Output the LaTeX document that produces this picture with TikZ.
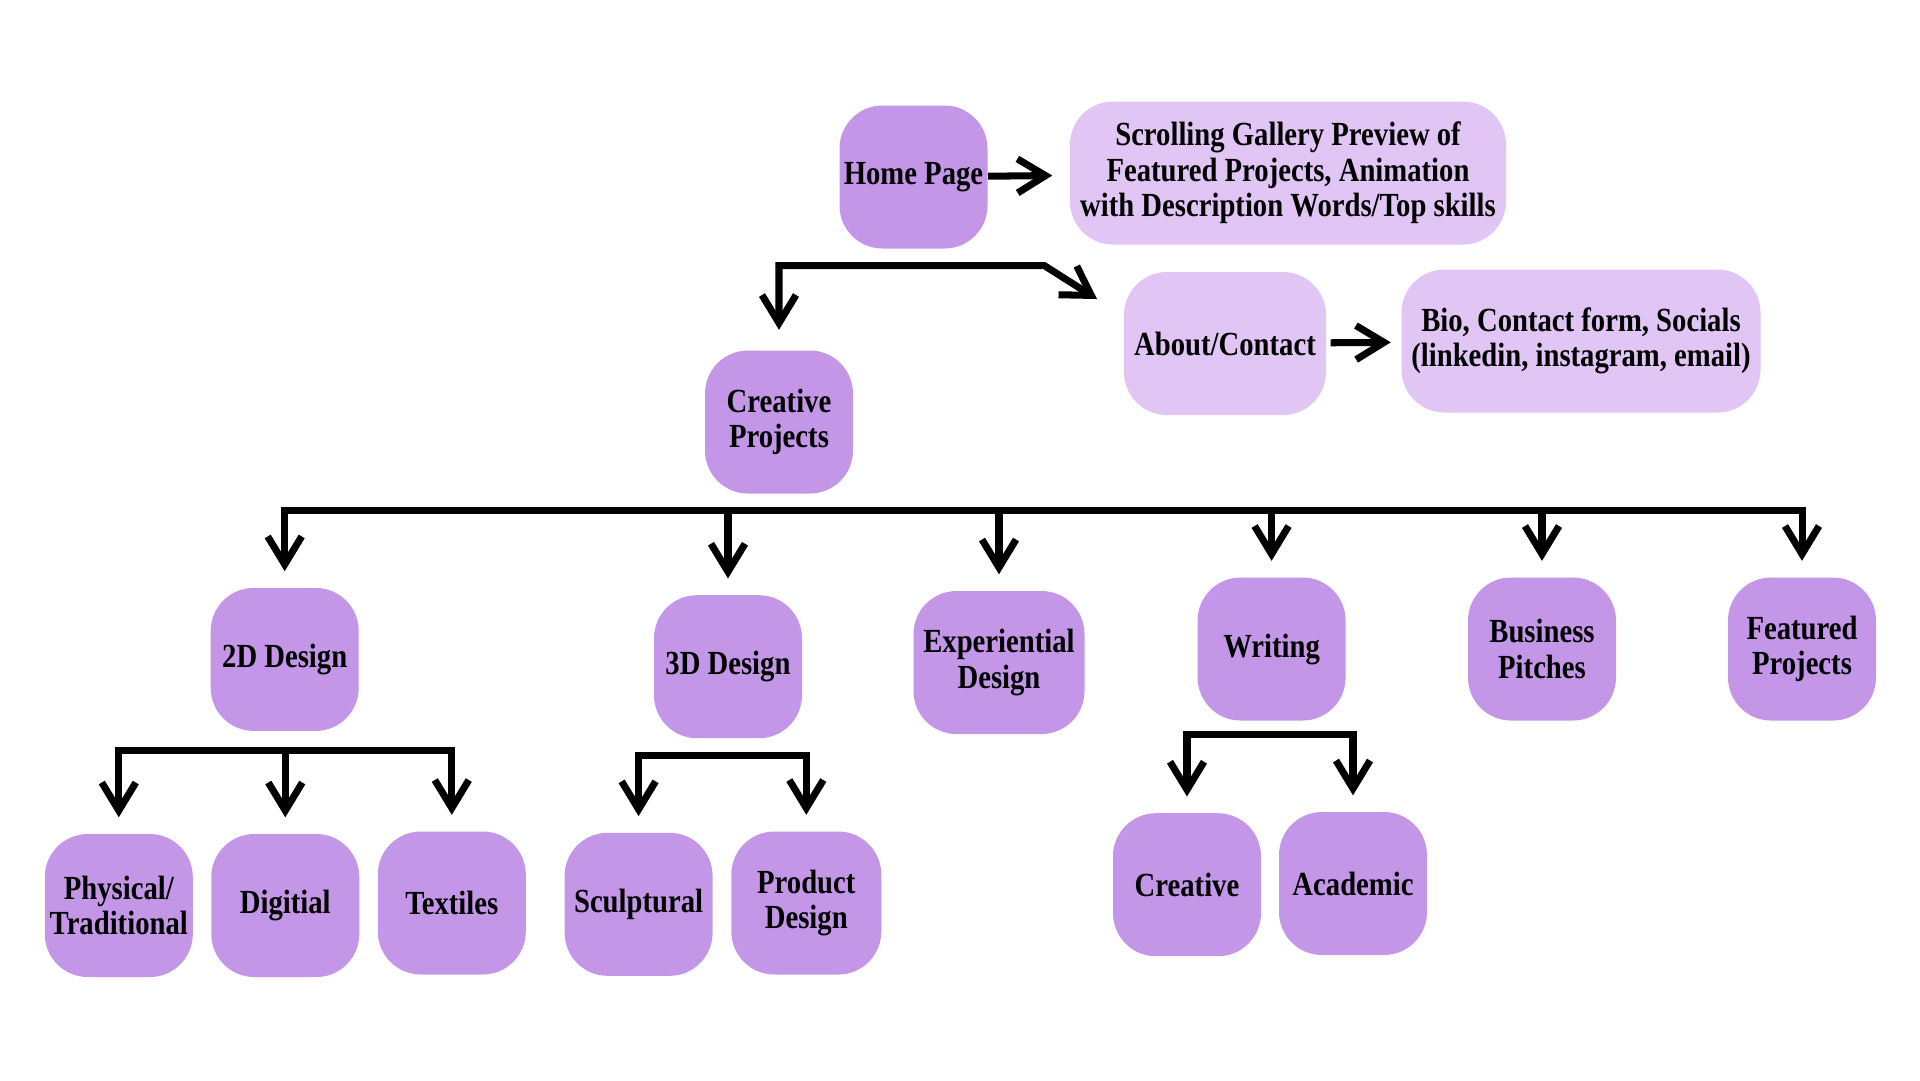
\documentclass[tikz,border=0pt]{standalone}
\usepackage{fontspec}
\setmainfont{Liberation Serif}[FakeStretch=0.85]
\usetikzlibrary{arrows.meta}
\definecolor{boxdark}{RGB}{195,150,232}
\definecolor{boxlight}{RGB}{224,197,245}

\begin{document}
\begin{tikzpicture}[x=0.1mm,y=-0.1mm,
    box/.style={fill=boxdark,rounded corners=4.3mm,minimum width=14.8mm,minimum height=14.3mm,
      inner sep=0pt,align=center,font=\bfseries\fontsize{9.6}{10.1}\selectfont},
    pale/.style={box,fill=boxlight},
    arr/.style={line width=2pt,-{Straight Barb[length=2.8mm,width=3.4mm]},shorten >=1.6mm},
    twoway/.style={arr,{Straight Barb[length=2.8mm,width=3.4mm]}-{Straight Barb[length=2.8mm,width=3.4mm]},shorten <=1.6mm}]
  \useasboundingbox (0,0) rectangle (1920,1080);

  % top row
  \node[box] (home) at (913.5,177) {Home Page};
  \node[pale,minimum width=43.6mm] (gal) at (1288,173) {Scrolling Gallery Preview of\\Featured Projects, Animation\\with Description Words/Top skills};
  \node[pale,minimum width=20.2mm] (about) at (1225,343.5) {About/Contact};
  \node[pale,minimum width=35.9mm] (bio) at (1581,341) {Bio, Contact form, Socials\\(linkedin, instagram, email)};
  \node[box] (proj) at (779,422) {Creative\\Projects};

  % categories
  \foreach \n/\x/\y/\t in {d2/284.7/659.4/2D Design, d3/728/666.7/3D Design,
      wri/1271.6/649/Writing, biz/1542/649/Business\\Pitches, feat/1802/649/Featured\\Projects}
    \node[box] (\n) at (\x,\y) {\t};
  \node[box,minimum width=17.1mm] (exp) at (999,662.5) {Experiential\\Design};

  % sub categories
  \foreach \n/\x/\y/\t in {digi/285.3/905.5/Digitial, tex/451.8/903/Textiles,
      sculp/638.6/904.3/Sculptural, crea/1187/884.7/Creative, acad/1353/883.5/Academic}
    \node[box] (\n) at (\x,\y) {\t};
  \node[box] (phys) at (118.8,905.5) {Physical/\\Traditional};
  \node[box,minimum width=15mm] (prod) at (806.3,903) {Product\\Design};

  \coordinate (topL) at (779,265.7);
  \coordinate (topR) at (1044.5,265.7);
  \coordinate (abTip) at (1097,299);
  \coordinate (busY) at (0,510.6);
  \coordinate (sub2) at (0,750.6);
  \coordinate (sub3) at (0,755.5);
  \coordinate (subW) at (0,734.7);

  \draw[arr,shorten >=1.7mm] (home) -- (gal);
  \draw[arr,shorten >=1mm,shorten <=0.4mm] (about) -- (bio);
  \draw[twoway,shorten <=0pt,shorten >=2mm] (abTip) -- (topR) -- (topL) -- (proj.north);

  \draw[twoway] (d2.north) -- (d2.north |- busY) -- (feat.north |- busY) -- (feat.north);
  \foreach \n in {d3,exp,wri,biz}
    \draw[arr] (\n.north |- busY) -- (\n.north);

  \draw[twoway] (phys.north) -- (phys.north |- sub2) -- (tex.north |- sub2) -- (tex.north);
  \draw[arr] (digi.north |- sub2) -- (digi.north);
  \draw[twoway] (sculp.north) -- (sculp.north |- sub3) -- (prod.north |- sub3) -- (prod.north);
  \draw[twoway] (crea.north) -- (crea.north |- subW) -- (acad.north |- subW) -- (acad.north);
\end{tikzpicture}
\end{document}
